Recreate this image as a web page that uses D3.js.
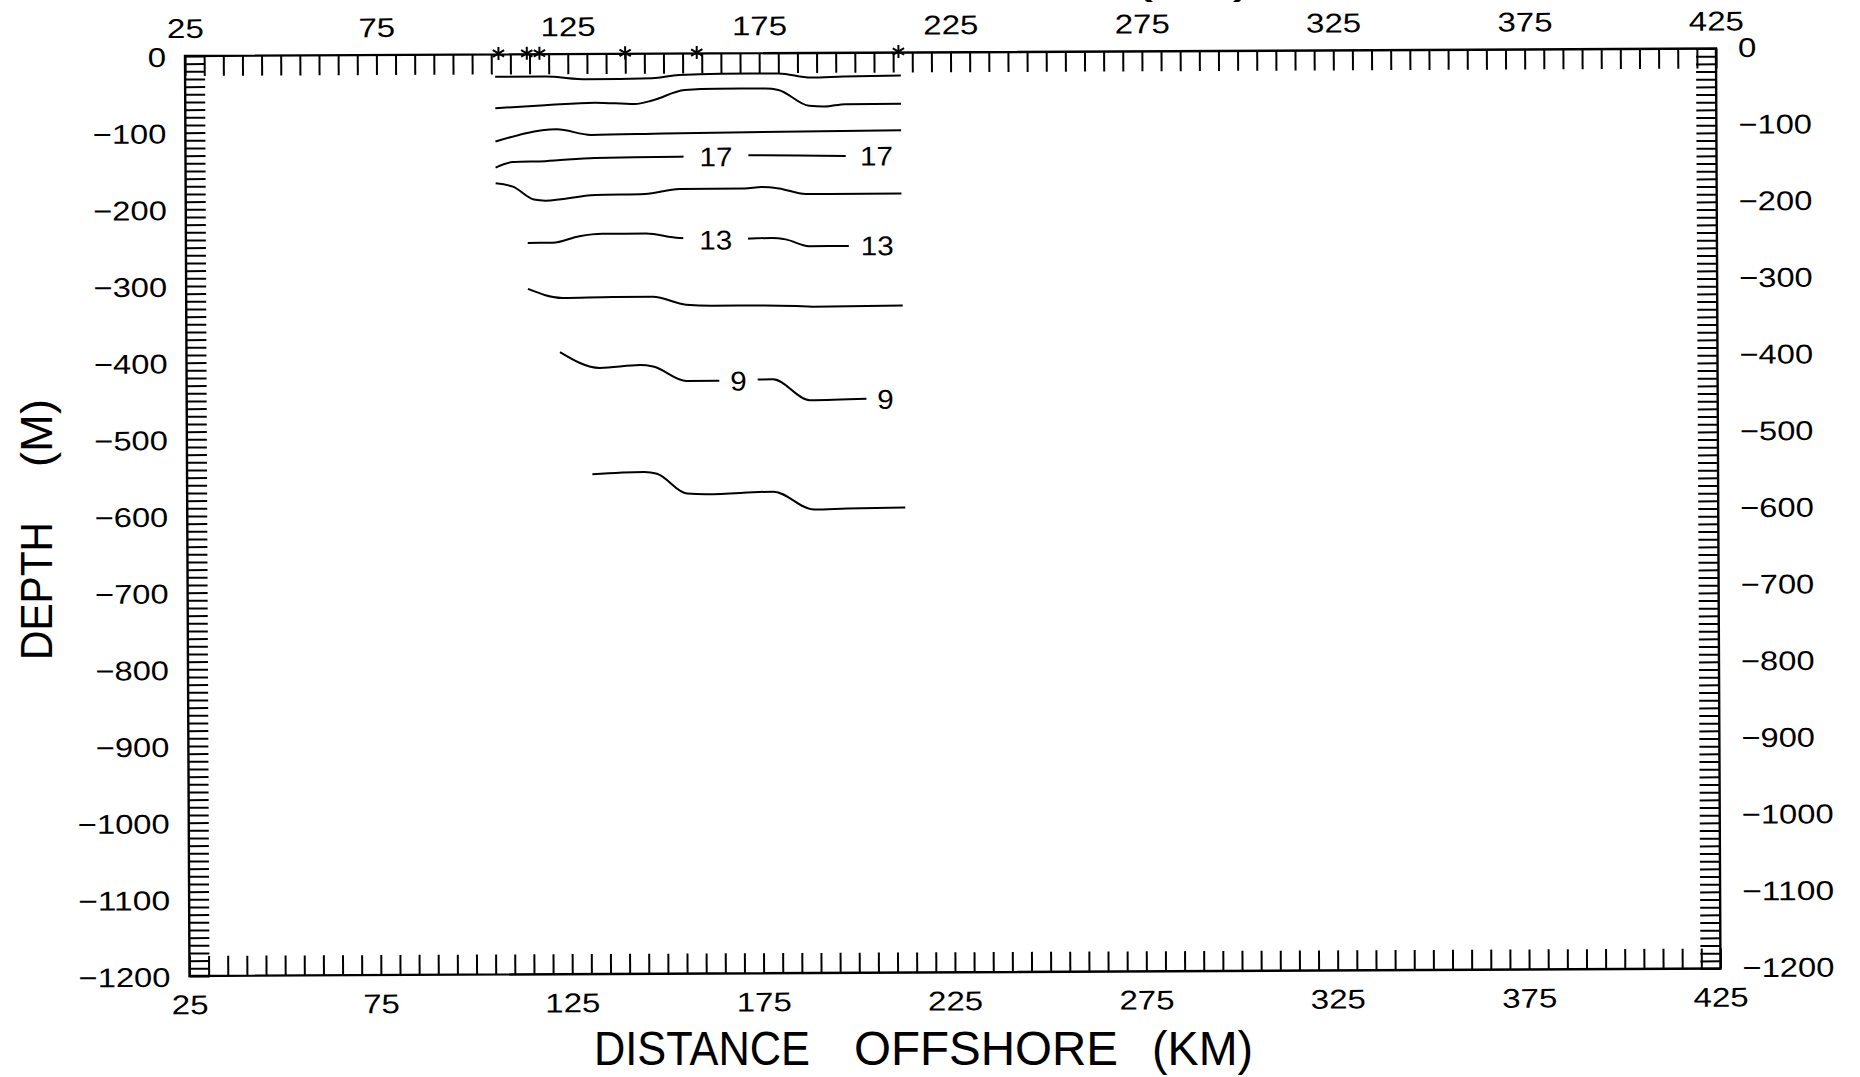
<!DOCTYPE html>
<html>
<head>
<meta charset="utf-8">
<script src="https://cdn.jsdelivr.net/npm/d3@7"></script>
<style>
  html, body { margin: 0; padding: 0; background: #ffffff; }
  svg { display: block; }
  text { font-family: "Liberation Sans", Arial, sans-serif; fill: #000; }
</style>
</head>
<body>
<svg id="chart" width="1860" height="1077"></svg>
<script>
// ---------------- data ----------------
const xDomain = [25, 425];            // distance offshore (km)
const yDomain = [-1200, 0];           // depth (m)
const xTickLabels = [25, 75, 125, 175, 225, 275, 325, 375, 425];
const yTickLabels = [0, -100, -200, -300, -400, -500, -600, -700, -800, -900, -1000, -1100, -1200];
const xMinorStep = 5;
const yMinorStep = 10;

// station positions (asterisks on the top axis), km
const stations = [106.9, 114.3, 117.6, 140.0, 158.7, 211.4];

// contour lines: [km, depth]
const contour23 = [[106,-29],[119,-29],[130,-33],[147,-32],[154,-28],[165,-26.5],[180,-26.5],[188.5,-32],[197,-31],[212,-30]];
const contour21 = [[106,-70],[119,-66.5],[132,-63.5],[142.5,-65.5],[147,-61],[155.5,-47.5],[164,-46],[176.5,-46],[180,-48],[188,-69],[192,-70],[197.5,-67],[212,-67]];
const contour19 = [[106,-113.5],[122,-98],[131,-105.5],[150,-104],[212,-101.5]];
const contour17 = [[106,-147.5],[110.5,-140.5],[119,-139.5],[132,-135.5],[154,-134.5],[170,-133],[197.5,-134.5]];
const contour15 = [[106,-168],[110.5,-172.5],[116,-189.5],[119,-191],[132,-184],[145,-183],[154,-176.5],[171,-176.5],[175.5,-174.5],[180,-176.5],[187,-184],[193,-184],[212,-184]];
const contour13 = [[114.3,-246],[120.8,-246],[127.8,-237.5],[133.8,-234.5],[145.2,-234.5],[153.9,-240.5],[170,-242],[178.2,-241],[181.7,-243],[187.8,-252],[198.2,-252]];
const contour11 = [[114.3,-306],[123.4,-318],[136.5,-317],[146.9,-317],[155.6,-327.5],[162.6,-329],[175.7,-329],[184.3,-330],[188.7,-331],[212.2,-330]];
const contour9  = [[122.6,-388.5],[133,-409.5],[143.5,-406],[146.9,-408],[155.6,-427],[164.3,-427],[173.9,-425.5],[178.2,-425.5],[187.8,-453],[202.6,-451.5]];
const contour7  = [[130.9,-548],[144.4,-545.5],[147.8,-548],[155.6,-574],[160.8,-575],[178.2,-572],[188.7,-595.5],[197.4,-594.5],[212.6,-593.5]];

const contourLevels = [23, 21, 19, 17, 15, 13, 11, 9, 7];
const contourLines  = [contour23, contour21, contour19, contour17, contour15, contour13, contour11, contour9, contour7];

// contour labels: level, km, depth
const labelLevels = [17, 17, 13, 13, 9, 9];
const labelKm     = [163.6, 205.5, 163.4, 205.6, 169.2, 207.6];
const labelDepth  = [-134.5, -134.5, -243, -251.5, -427, -452];

const xTitle = ["DISTANCE", "OFFSHORE", "(KM)"];
const yTitle = ["DEPTH", "(M)"];
const topTitle = "(°C)";

// ---------------- layout ----------------
const L = 185, R = 1716, T = 56, B = 976;
const CHAR_W = 18.4;   // wide plotter-style digits
const svg = d3.select("#chart");
const x = d3.scaleLinear().domain(xDomain).range([L, R]);
const y = d3.scaleLinear().domain(yDomain).range([B, T]);

const g = svg.append("g").attr("transform", `rotate(-0.28, ${L}, ${T})`);

const minorX = d3.range(xDomain[0], xDomain[1] + 0.001, xMinorStep);
const minorY = d3.range(yDomain[0], yDomain[1] + 0.001, yMinorStep);

function styleTicks(sel) {
  sel.select(".domain").remove();
  sel.selectAll(".tick line").attr("stroke", "#000").attr("stroke-width", 2);
}
function styleLabels(sel) {
  sel.select(".domain").remove();
  sel.selectAll(".tick line").remove();
  sel.attr("font-family", null).attr("font-size", null);
  sel.selectAll("text")
    .style("font-family", '"Liberation Sans", Arial, sans-serif')
    .style("font-size", "27px")
    .attr("fill", "#000")
    .attr("textLength", function () { return this.textContent.length * CHAR_W; })
    .attr("lengthAdjust", "spacingAndGlyphs");
}

// minor ticks (inward)
g.append("g").attr("transform", `translate(0,${T})`)
  .call(d3.axisTop(x).tickValues(minorX).tickSize(-20).tickFormat("")).call(styleTicks);
g.append("g").attr("transform", `translate(0,${B})`)
  .call(d3.axisBottom(x).tickValues(minorX).tickSize(-20).tickFormat("")).call(styleTicks);
g.append("g").attr("transform", `translate(${L},0)`)
  .call(d3.axisLeft(y).tickValues(minorY).tickSize(-20).tickFormat("")).call(styleTicks);
g.append("g").attr("transform", `translate(${R},0)`)
  .call(d3.axisRight(y).tickValues(minorY).tickSize(-20).tickFormat("")).call(styleTicks);

// labels
const fmt = d3.format("d");
g.append("g").attr("transform", `translate(0,${T})`)
  .call(d3.axisTop(x).tickValues(xTickLabels).tickSize(0).tickPadding(18).tickFormat(fmt)).call(styleLabels);
g.append("g").attr("transform", `translate(0,${B})`)
  .call(d3.axisBottom(x).tickValues(xTickLabels).tickSize(0).tickPadding(19).tickFormat(fmt)).call(styleLabels);
const yl = g.append("g").attr("transform", `translate(${L},0)`)
  .call(d3.axisLeft(y).tickValues(yTickLabels).tickSize(0).tickPadding(19).tickFormat(fmt)).call(styleLabels);
yl.selectAll("text").attr("dy", "0.38em");
const yr = g.append("g").attr("transform", `translate(${R},0)`)
  .call(d3.axisRight(y).tickValues(yTickLabels).tickSize(0).tickPadding(22).tickFormat(fmt)).call(styleLabels);
yr.selectAll("text").attr("dy", "0.3em");

// frame
g.append("rect").attr("x", L).attr("y", T).attr("width", R - L).attr("height", B - T)
  .attr("fill", "none").attr("stroke", "#000").attr("stroke-width", 2.4);

// contours
const line = d3.line().x(d => x(d[0])).y(d => y(d[1])).curve(d3.curveMonotoneX);
g.append("g").selectAll("path").data(contourLines).join("path")
  .attr("d", line).attr("fill", "none").attr("stroke", "#000").attr("stroke-width", 2);

// contour labels
const labels = labelLevels.map((lv, i) => ({ level: lv, km: labelKm[i], depth: labelDepth[i] }));
const lg = g.append("g");
labels.forEach(d => {
  const pts = contourLines[contourLevels.indexOf(d.level)];
  const s = String(d.level);
  const t = lg.append("text").attr("x", x(d.km)).attr("y", y(d.depth)).attr("dy", "0.36em")
    .attr("text-anchor", "middle").style("font-size", "27px")
    .attr("textLength", s.length * 16.5).attr("lengthAdjust", "spacingAndGlyphs")
    .text(s);
  const bb = t.node().getBBox();
  if (d.km < pts[pts.length - 1][0]) {
    const pad = 6 + 0.3 * bb.width;
    lg.insert("rect", "text").attr("x", bb.x - pad).attr("y", bb.y)
      .attr("width", bb.width + 2 * pad).attr("height", bb.height).attr("fill", "#fff");
  }
});

// station asterisks
g.append("g").selectAll("path").data(stations).join("path")
  .attr("transform", d => `translate(${x(d)},${T - 1})`)
  .attr("d", d3.symbol(d3.symbolAsterisk, 120))
  .attr("fill", "none").attr("stroke", "#000").attr("stroke-width", 2);

// axis titles
const xt = svg.append("text").attr("y", 1065).style("font-size", "48px");
const xPos = [594, 854, 1152], xLen = [216, 264, 101];
xTitle.forEach((w, i) => xt.append("tspan").attr("x", xPos[i]).attr("textLength", xLen[i])
  .attr("lengthAdjust", "spacingAndGlyphs").text(w));

const ytitle = svg.append("text").attr("transform", "translate(52,0) rotate(-90)").style("font-size", "45px");
const yPos = [-660, -467], yLen = [138, 68];
yTitle.forEach((w, i) => ytitle.append("tspan").attr("x", yPos[i]).attr("y", 0).attr("textLength", yLen[i])
  .attr("lengthAdjust", "spacingAndGlyphs").text(w));

// clipped top title (only parenthesis tails visible)
svg.append("text").attr("x", 1130).attr("y", -8.5).attr("textLength", 126)
  .attr("lengthAdjust", "spacingAndGlyphs").style("font-size", "50px").text(topTitle);
</script>
</body>
</html>
